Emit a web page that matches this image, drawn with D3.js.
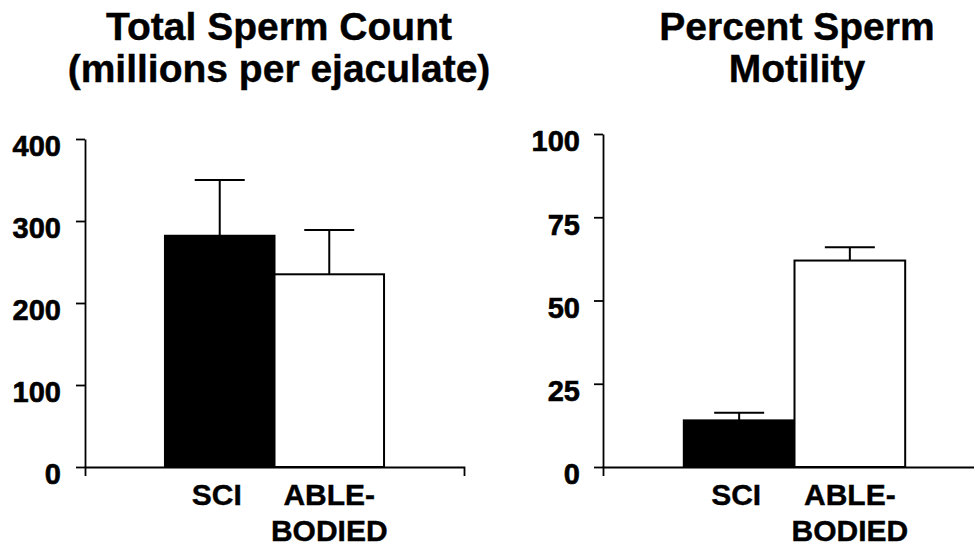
<!DOCTYPE html>
<html>
<head>
<meta charset="utf-8">
<script src="https://cdn.jsdelivr.net/npm/d3@7"></script>
<style>
  html, body { margin: 0; padding: 0; background: #fff; }
  svg { display: block; }
  text { font-family: "Liberation Sans", Arial, sans-serif; font-weight: bold; fill: #000; }
</style>
</head>
<body>
<svg id="chart" width="974" height="546"></svg>
<script>
// ---- data ----
const groups = ["SCI", "ABLE-BODIED"];
const groupLabels = [["SCI"], ["ABLE-", "BODIED"]];
const groupFills = ["#000000", "#ffffff"];

const countTitle = ["Total Sperm Count", "(millions per ejaculate)"];
const countValues = [282, 235];
const countErrors = [68, 54];
const countTicks = [0, 100, 200, 300, 400];

const motilityTitle = ["Percent Sperm", "Motility"];
const motilityValues = [14, 62];
const motilityErrors = [2.3, 4];
const motilityTicks = [0, 25, 50, 75, 100];

// ---- layout ----
const svg = d3.select("#chart");

function panel(cfg) {
  const g = svg.append("g");
  const x = d3.scaleBand().domain(groups).range([cfg.x0, cfg.x1])
    .paddingInner(0).paddingOuter(0.73);
  const y = d3.scaleLinear().domain([0, cfg.max]).range([cfg.yBottom, cfg.yTop]);

  // title
  cfg.title.forEach((t, i) => {
    g.append("text")
      .attr("x", cfg.titleX)
      .attr("y", 40 + i * 42)
      .attr("text-anchor", "middle")
      .style("font-size", "39px")
      .attr("stroke", "#000").attr("stroke-width", 0.4)
      .text(t);
  });

  const bars = groups.map((k, i) => ({ k, v: cfg.values[i], e: cfg.errors[i], fill: groupFills[i] }));

  // error bars (upper only)
  const capHalf = 25;
  g.selectAll(".err").data(bars).enter().append("path")
    .attr("class", "err")
    .attr("d", d => {
      const cx = x(d.k) + x.bandwidth() / 2;
      return `M${cx},${y(d.v)}V${y(d.v + d.e)}M${cx - capHalf},${y(d.v + d.e)}H${cx + capHalf}`;
    })
    .attr("stroke", "#000").attr("stroke-width", 2).attr("fill", "none");

  g.selectAll(".bar").data(bars).enter().append("rect")
    .attr("class", "bar")
    .attr("x", d => x(d.k))
    .attr("y", d => y(d.v))
    .attr("width", x.bandwidth())
    .attr("height", d => y(0) - y(d.v))
    .attr("fill", d => d.fill)
    .attr("stroke", "#000").attr("stroke-width", 2);

  // y axis
  const yAxis = g.append("g")
    .attr("transform", `translate(${cfg.x0},0)`)
    .call(d3.axisLeft(y).tickValues(cfg.ticks).tickSize(9).tickSizeOuter(0).tickPadding(cfg.tickPad));
  yAxis.selectAll("path,line").attr("stroke", "#000").attr("stroke-width", 1.8);
  yAxis.selectAll("text").style("font-size", "29px").attr("dy", "0.58em")
    .style("font-family", "'Liberation Sans', Arial, sans-serif").style("font-weight", "bold")
    .attr("fill", "#000").attr("stroke", "#000").attr("stroke-width", 0.6);

  // x axis
  const xAxis = g.append("g")
    .attr("transform", `translate(0,${cfg.yBottom})`)
    .call(d3.axisBottom(x).tickSizeInner(0).tickSizeOuter(9).tickFormat(""));
  xAxis.selectAll("path,line").attr("stroke", "#000").attr("stroke-width", 1.8);
  xAxis.selectAll(".tick line").remove();

  // category labels
  groups.forEach((k, i) => {
    const cx = x(k) + x.bandwidth() / 2 + (i === 0 ? -3 : 0);
    groupLabels[i].forEach((t, j) => {
      g.append("text")
        .attr("x", cx)
        .attr("y", 505 + j * 36)
        .attr("text-anchor", "middle")
        .style("font-size", "30px")
        .attr("stroke", "#000").attr("stroke-width", 0.4)
        .text(t);
    });
  });
}

panel({ x0: 85, x1: 464, yTop: 139, yBottom: 467, max: 400,
        values: countValues, errors: countErrors, ticks: countTicks,
        title: countTitle, titleX: 279, tickPad: 15 });

panel({ x0: 603, x1: 986, yTop: 134, yBottom: 467, max: 100,
        values: motilityValues, errors: motilityErrors, ticks: motilityTicks,
        title: motilityTitle, titleX: 797, tickPad: 14 });
</script>
</body>
</html>
